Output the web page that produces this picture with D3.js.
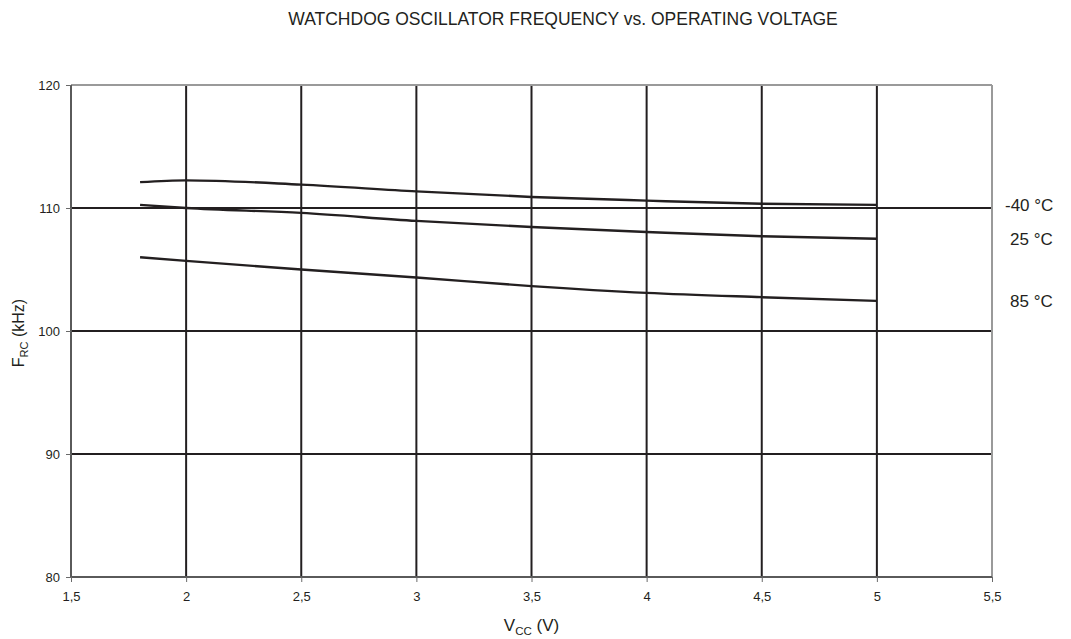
<!DOCTYPE html>
<html><head><meta charset="utf-8">
<script src="https://cdn.jsdelivr.net/npm/d3@7"></script>
<style>body{margin:0;background:#fff;} text{font-family:"Liberation Sans",Arial,sans-serif;fill:#231f20;}</style>
</head><body>
<svg id="c" width="1071" height="639"></svg>
<script>
const voltages = [1.8, 2, 2.5, 3, 3.5, 4, 4.5, 5];
const seriesNames = ["-40 °C", "25 °C", "85 °C"];
const fM40 = [112.1, 112.25, 111.9, 111.35, 110.9, 110.6, 110.35, 110.25];
const f25  = [110.25, 110.0, 109.6, 108.95, 108.45, 108.05, 107.7, 107.5];
const f85  = [106.0, 105.7, 105.0, 104.35, 103.65, 103.1, 102.75, 102.45];
const xTicks = [1.5, 2, 2.5, 3, 3.5, 4, 4.5, 5, 5.5];
const xTickLabels = ["1,5", "2", "2,5", "3", "3,5", "4", "4,5", "5", "5,5"];
const yTicks = [80, 90, 100, 110, 120];

const svg = d3.select("#c");
const L = 71, R = 992, T = 85, B = 577;
const x = d3.scaleLinear().domain([1.5, 5.5]).range([L, R]);
const y = d3.scaleLinear().domain([80, 120]).range([B, T]);

// title
svg.append("text").attr("x", 563).attr("y", 25).attr("text-anchor", "middle")
  .style("font-size", "17.5px").text("WATCHDOG OSCILLATOR FREQUENCY vs. OPERATING VOLTAGE");

const g = svg.append("g");
// vertical gridlines
g.selectAll(".vg").data(xTicks.filter(v => v > 1.5 && v < 5.5)).enter().append("line")
  .attr("x1", d => x(d)).attr("x2", d => x(d)).attr("y1", T).attr("y2", B)
  .attr("stroke", "#231f20").attr("stroke-width", 2);
// horizontal gridlines
g.selectAll(".hg").data(yTicks.filter(v => v > 80 && v < 120)).enter().append("line")
  .attr("x1", L).attr("x2", R).attr("y1", d => y(d)).attr("y2", d => y(d))
  .attr("stroke", "#231f20").attr("stroke-width", 2);
// top & right border
g.append("line").attr("x1", L).attr("x2", R).attr("y1", T).attr("y2", T).attr("stroke", "#9a9a9a").attr("stroke-width", 2);
g.append("line").attr("x1", R).attr("x2", R).attr("y1", T).attr("y2", B).attr("stroke", "#9a9a9a").attr("stroke-width", 2);

// axes
const xAxis = d3.axisBottom(x).tickValues(xTicks).tickFormat((d, i) => xTickLabels[i]).tickSize(5).tickPadding(10);
const yAxis = d3.axisLeft(y).tickValues(yTicks).tickSize(5).tickPadding(6);
const gx = svg.append("g").attr("transform", `translate(0,${B})`).call(xAxis);
const gy = svg.append("g").attr("transform", `translate(${L},0)`).call(yAxis);
[gx, gy].forEach(a => {
  a.select(".domain").attr("stroke", "#5a5a5a").attr("stroke-width", 2);
  a.selectAll(".tick line").attr("stroke", "#6a6a6a").attr("stroke-width", 1);
  a.selectAll(".tick text").style("font-size", "13px").style("font-family", "Liberation Sans, Arial, sans-serif").attr("fill", "#231f20");
});
gx.select(".domain").attr("d", `M${L},0H${R}`);
gy.select(".domain").attr("d", `M0,${B}V${T}`);

// axis titles
const xt = svg.append("text").attr("x", x(3.5)).attr("y", 631).attr("text-anchor", "middle").style("font-size", "17px");
xt.append("tspan").text("V");
xt.append("tspan").attr("dy", 4).style("font-size", "11.5px").text("CC");
xt.append("tspan").attr("dy", -4).text(" (V)");
const yt = svg.append("text").attr("transform", "translate(24,333) rotate(-90)").attr("text-anchor", "middle").style("font-size", "16px");
yt.append("tspan").text("F");
yt.append("tspan").attr("dy", 4).style("font-size", "11px").text("RC");
yt.append("tspan").attr("dy", -4).text(" (kHz)");

// curves
const series = [fM40, f25, f85];
const line = d3.line().x((d, i) => x(voltages[i])).y(d => y(d)).curve(d3.curveMonotoneX);
svg.selectAll(".curve").data(series).enter().append("path")
  .attr("d", d => line(d)).attr("fill", "none").attr("stroke", "#231f20").attr("stroke-width", 2.4);

// labels
const labelY = [110.2, 107.5, 102.45];
const labelX = [1005, 1010, 1010];
svg.selectAll(".lab").data(seriesNames).enter().append("text")
  .attr("x", (d, i) => labelX[i]).attr("y", (d, i) => y(labelY[i])).attr("dy", "0.35em")
  .style("font-size", "17px").text(d => d);
</script>
</body></html>
